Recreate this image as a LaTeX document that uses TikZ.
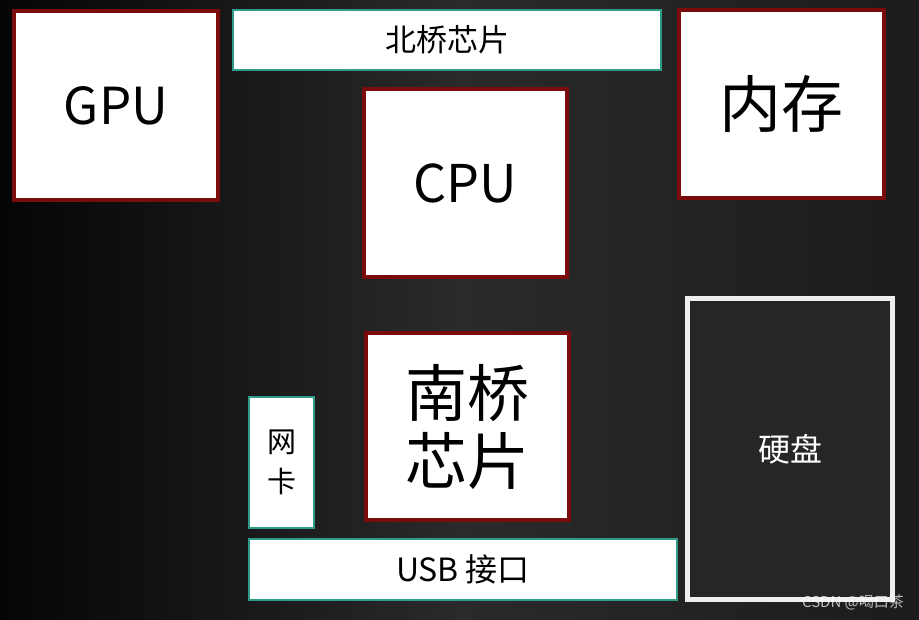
\documentclass[tikz,border=0pt]{standalone}
\usepackage{fontspec}
\setmainfont{Noto Sans CJK SC}
\definecolor{chipred}{HTML}{7B0C0C}
\definecolor{busteal}{HTML}{2E9C88}
\definecolor{diskfill}{HTML}{262626}
\definecolor{diskline}{HTML}{EEEEEE}
\definecolor{bgleft}{HTML}{050505}
\definecolor{bgmid}{HTML}{2A2A2A}
\definecolor{bgright}{HTML}{1C1C1C}
\begin{document}
\begin{tikzpicture}[x=1pt,y=-1pt,
  redbox/.style={draw=chipred,line width=4pt,fill=white,inner sep=0pt,text=black,align=center},
  tealbox/.style={draw=busteal,line width=2pt,fill=white,inner sep=0pt,text=black,align=center},
  diskbox/.style={draw=diskline,line width=5pt,fill=diskfill,inner sep=0pt,text=white,align=center}]
\useasboundingbox (0,0) rectangle (919,619);
\shade[left color=bgleft,right color=bgright,middle color=bgmid] (0,0) rectangle (919,619);
\node[redbox,minimum width=204pt,minimum height=189pt,font=\fontsize{51}{56}\selectfont] (gpu) at (116,105.5) {GPU};
\node[tealbox,minimum width=428pt,minimum height=60pt,font=\fontsize{31}{34}\selectfont] (nb) at (447,40) {北桥芯片};
\node[redbox,minimum width=205pt,minimum height=188pt,font=\fontsize{62}{66}\selectfont] (mem) at (781.5,104) {内存};
\node[redbox,minimum width=203pt,minimum height=188pt,font=\fontsize{52}{56}\selectfont] (cpu) at (465.5,183) {CPU};
\node[redbox,minimum width=203pt,minimum height=187pt,font=\fontsize{62}{68}\selectfont] (sb) at (467.5,426.5) {南桥\\芯片};
\node[tealbox,minimum width=65pt,minimum height=131pt,font=\fontsize{29}{40}\selectfont] (nic) at (281.5,462.5) {网\\卡};
\node[tealbox,minimum width=428pt,minimum height=61pt,font=\fontsize{32}{34}\selectfont] (usb) at (463,569.5) {USB 接口};
\node[diskbox,minimum width=205pt,minimum height=301pt,font=\fontsize{32}{36}\selectfont] (disk) at (790,449) {硬盘};
\node[text=white,opacity=0.7,font=\fontsize{15}{17}\selectfont,inner sep=0pt] (wm) at (853,602) {CSDN @喝口茶};
\end{tikzpicture}
\end{document}
